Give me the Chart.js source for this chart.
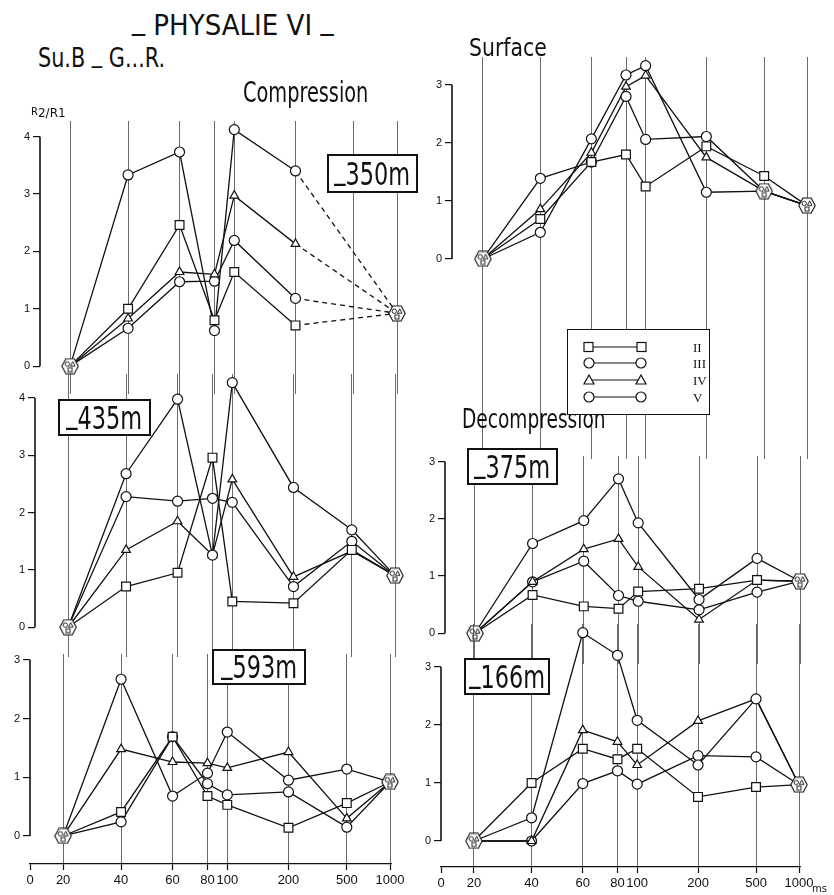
<!DOCTYPE html>
<html lang="fr">
<head>
<meta charset="UTF-8">
<title>Physalie VI - R2/R1</title>
<script src="https://cdn.jsdelivr.net/npm/chart.js"></script>
<style>
  body { margin: 0; background: #fff; }
  #page {
    position: relative; width: 834px; height: 895px; overflow: hidden; background: #fff;
    font-family: "DejaVu Sans", sans-serif; color: #111;
  }
  canvas.panel { position: absolute; }
  .txt { position: absolute; white-space: nowrap; line-height: 1; z-index: 5; transform-origin: 0 0; }
  .u { position: relative; top: -0.2em; }
  .depth {
    position: absolute; z-index: 6; box-sizing: border-box; border: 2px solid #111; background: #fff;
    display: flex; align-items: center; justify-content: center; font-size: 32px; line-height: 1;
    filter: grayscale(1); overflow: hidden;
  }
  .depth > span { display: inline-block; transform: scaleX(0.7); }
  #legend { position: absolute; left: 567px; top: 329px; width: 143px; height: 86px; box-sizing: border-box;
    border: 1.5px solid #111; background: #fff; z-index: 6; filter: grayscale(1); }
  #legend span { position: absolute; left: 125px; font-family: "Liberation Serif", serif; font-size: 13px; line-height: 1; }
</style>
</head>
<body>
<div id="page">
  <div class="txt" style="left:132px;top:11px;font-size:29px;transform:scaleX(0.9);"><span class="u">_</span> PHYSALIE VI <span class="u">_</span></div>
  <div class="txt" style="left:38px;top:44px;font-size:27px;transform:scaleX(0.77);">Su.B <span class="u">_</span> G...R.</div>
  <div class="txt" style="left:243px;top:79px;font-size:28px;transform:scaleX(0.69);">Compression</div>
  <div class="txt" style="left:469px;top:36px;font-size:24px;transform:scaleX(0.85);">Surface</div>
  <div class="txt" style="left:462px;top:406px;font-size:26px;transform:scaleX(0.715);">Decompression</div>
  <div class="txt" style="left:31px;top:107px;font-size:12px;"><span style="font-size:10px;vertical-align:2px;">R</span>2/R1</div>
  <div class="txt" style="left:812px;top:884px;font-size:10px;">ms</div>

  <div class="depth" style="left:327px;top:154px;width:91px;height:39px;"><span><span class="u">_</span>350m</span></div>
  <div class="depth" style="left:58px;top:399px;width:93px;height:37px;"><span><span class="u">_</span>435m</span></div>
  <div class="depth" style="left:212px;top:649px;width:94px;height:36px;"><span><span class="u">_</span>593m</span></div>
  <div class="depth" style="left:467px;top:448px;width:91px;height:37px;"><span><span class="u">_</span>375m</span></div>
  <div class="depth" style="left:464px;top:658px;width:86px;height:37px;"><span><span class="u">_</span>166m</span></div>

  <div id="legend">
    <svg width="143" height="86" style="position:absolute;left:-1.5px;top:-1.5px;">
      <g stroke="#111" stroke-width="1.2" fill="#fff">
        <line x1="22" y1="18" x2="74" y2="18"/>
        <rect x="17" y="13.5" width="9" height="9"/><rect x="70" y="13.5" width="9" height="9"/>
        <line x1="22" y1="34" x2="74" y2="34"/>
        <circle cx="22" cy="34" r="5"/><circle cx="74" cy="34" r="5"/>
        <line x1="22" y1="51" x2="74" y2="51"/>
        <path d="M22 46 L27 55 L17 55 Z"/><path d="M74 46 L79 55 L69 55 Z"/>
        <line x1="22" y1="68" x2="74" y2="68"/>
        <circle cx="22" cy="68" r="5"/><circle cx="74" cy="68" r="5"/>
      </g>
    </svg>
    <span style="top:11px;">II</span>
    <span style="top:27px;">III</span>
    <span style="top:44px;">IV</span>
    <span style="top:61px;">V</span>
  </div>
</div>

<script>
    // stimulus intervals (ms) and bottom-axis labels
    const categories = ['20', '40', '60', '80', '100', '200', '500', '1000'];
    const axisLabels = ['0', '20', '40', '60', '80', '100', '200', '500', '1000'];
    const seriesNames = ['II', 'III', 'IV', 'V'];

    // Compression -350m (no measure at 500, dashed to 1000)
    const c350_II  = [0, 1.00, 2.46, 0.80, 1.64, 0.71, null, 0.92];
    const c350_III = [0, 3.33, 3.73, 0.62, 4.12, 3.40, null, 0.92];
    const c350_IV  = [0, 0.83, 1.64, 1.60, 2.97, 2.13, null, 0.92];
    const c350_V   = [0, 0.66, 1.47, 1.48, 2.19, 1.18, null, 0.92];
    const c350_hex = [0, null, null, null, null, null, null, 0.92];

    // Compression -435m
    const c435_II  = [0, 0.71, 0.95, 2.96, 0.45, 0.42, 1.35, 0.90];
    const c435_III = [0, 2.68, 3.98, 1.26, 4.27, 2.44, 1.70, 0.90];
    const c435_IV  = [0, 1.35, 1.85, 1.26, 2.58, 0.88, 1.33, 0.90];
    const c435_V   = [0, 2.28, 2.20, 2.25, 2.18, 0.71, 1.50, 0.90];
    const c435_hex = [0, null, null, null, null, null, null, 0.90];

    // Compression -593m
    const c593_II  = [0, 0.41, 1.69, 0.68, 0.53, 0.14, 0.56, 0.92];
    const c593_III = [0, 2.67, 0.68, 1.07, 1.77, 0.95, 1.14, 0.92];
    const c593_IV  = [0, 1.48, 1.26, 1.24, 1.16, 1.43, 0.30, 0.92];
    const c593_V   = [0, 0.24, 1.69, 0.89, 0.70, 0.75, 0.15, 0.92];
    const c593_hex = [0, null, null, null, null, null, null, 0.92];

    // Surface
    const surf_II  = [0, 0.69, 1.67, 1.80, 1.25, 1.94, 1.43, 0.92];
    const surf_III = [0, 1.39, 1.67, 2.80, 2.06, 2.11, 1.17, 0.92];
    const surf_IV  = [0, 0.86, 1.83, 2.97, 3.16, 1.75, 1.17, 0.92];
    const surf_V   = [0, 0.46, 2.07, 3.17, 3.33, 1.15, 1.17, 0.92];
    const surf_hex = [0, null, null, null, null, null, 1.17, 0.92];

    // Decompression -375m
    const d375_II  = [0, 0.67, 0.47, 0.43, 0.73, 0.78, 0.93, 0.91];
    const d375_III = [0, 1.57, 1.97, 2.70, 1.93, 0.59, 1.31, 0.91];
    const d375_IV  = [0, 0.90, 1.47, 1.65, 1.16, 0.24, 0.93, 0.91];
    const d375_V   = [0, 0.90, 1.26, 0.66, 0.56, 0.41, 0.72, 0.91];
    const d375_hex = [0, null, null, null, null, null, null, 0.91];

    // Decompression -166m
    const d166_II  = [0, 1.00, 1.59, 1.41, 1.59, 0.76, 0.93, 0.97];
    const d166_III = [0, 0.40, 3.59, 3.20, 2.08, 1.31, 2.45, 0.97];
    const d166_IV  = [0, 0.00, 1.91, 1.71, 1.31, 2.07, 2.45, 0.97];
    const d166_V   = [0, 0.00, 0.99, 1.21, 0.98, 1.47, 1.45, 0.97];
    const d166_hex = [0, null, null, null, null, null, null, 0.97];

    // the time axis of the original is hand drawn, not to scale:
    // position of each interval along the axis (0 = origin, 100 = 1000 ms)
    const xPos = [9.2, 25.3, 39.6, 49.3, 54.8, 71.8, 88.0, 100];
    const axisPos = [0].concat(xPos);

    const FONT = '"Liberation Sans", Arial, sans-serif';
    const INK = '#111';
    const Y_W = 26, PAD_T = 16, PAD_R = 34, PAD_B = 8, X_H = 30;

    const markers = {
        II: { style: 'rect', r: 6.2 },
        III: { style: 'circle', r: 5 },
        IV: { style: 'triangle', r: 5 },
        V: { style: 'circle', r: 5 }
    };

    // hexagon holding the little circle / triangle / square (common start and end points)
    function hexMarker() {
        const c = document.createElement('canvas');
        c.width = 18; c.height = 17;
        const g = c.getContext('2d');
        g.strokeStyle = INK; g.fillStyle = '#fff'; g.lineWidth = 1.1;
        g.beginPath();
        g.moveTo(0.8, 8.5); g.lineTo(4.8, 1); g.lineTo(13.2, 1);
        g.lineTo(17.2, 8.5); g.lineTo(13.2, 16); g.lineTo(4.8, 16);
        g.closePath(); g.fill(); g.stroke();
        g.lineWidth = 0.9;
        g.beginPath(); g.arc(6.3, 6.3, 2.2, 0, Math.PI * 2); g.stroke();
        g.beginPath(); g.moveTo(11.7, 3.8); g.lineTo(14, 8.3); g.lineTo(9.4, 8.3); g.closePath(); g.stroke();
        g.strokeRect(7, 10, 4, 4);
        return c;
    }
    const hexImg = hexMarker();

    // draws the "]" shaped y axis from 0 up to the last tick only
    const bracket = {
        id: 'bracket',
        beforeDatasetsDraw(chart) {
            const y = chart.scales.y;
            const topTick = y.ticks[y.ticks.length - 1].value;
            const x = chart.chartArea.left;
            const ctx = chart.ctx;
            ctx.save();
            ctx.strokeStyle = INK;
            ctx.lineWidth = 1.6;
            ctx.beginPath();
            ctx.moveTo(x, y.getPixelForValue(0));
            ctx.lineTo(x, y.getPixelForValue(topTick));
            ctx.stroke();
            ctx.restore();
        }
    };

    function toPoints(vals) {
        return vals.map((v, i) => v == null ? null : { x: xPos[i], y: v }).filter(Boolean);
    }

    function makePanel(p) {
        const unit = (p.zeroPx - p.topPx) / p.max;
        const dataMax = Math.max(...p.series.flat().filter(v => v != null));
        const yMax = Math.max(p.max + 0.1, dataMax + 0.15);
        const areaTop = p.zeroPx - unit * yMax;
        const chartLeft = p.axisPx;
        const chartRight = p.xA + p.xB * 100 + 1;
        const left = chartLeft - Y_W;
        const width = Math.round(chartRight + PAD_R - left);
        const top = Math.round(areaTop - PAD_T);
        const height = Math.round(PAD_T + (p.bottomPx - areaTop) + (p.showX ? X_H : 0) + PAD_B);

        const cv = document.createElement('canvas');
        cv.className = 'panel';
        cv.width = width; cv.height = height;
        cv.style.left = left + 'px'; cv.style.top = top + 'px';
        cv.style.width = width + 'px'; cv.style.height = height + 'px';
        document.getElementById('page').appendChild(cv);

        const datasets = p.series.map((vals, k) => {
            const m = markers[seriesNames[k]];
            const pts = toPoints(vals);
            const last = pts.length - 1;
            return {
                label: seriesNames[k],
                data: pts,
                borderColor: INK,
                borderWidth: 1.3,
                tension: 0,
                pointStyle: m.style,
                pointRadius: ctx => (ctx.dataIndex === 0 || ctx.dataIndex === last) ? 0 : m.r,
                pointBackgroundColor: '#fff',
                pointBorderColor: INK,
                pointBorderWidth: 1.2,
                clip: false,
                order: 1,
                segment: {
                    borderDash: ctx => (p.dashedToEnd && ctx.p1DataIndex === last) ? [5, 4] : undefined
                }
            };
        });
        datasets.push({
            label: 'common',
            data: toPoints(p.hex),
            showLine: false,
            pointStyle: hexImg,
            pointRadius: 9,
            clip: false,
            order: 0
        });

        new Chart(cv, {
            type: 'line',
            data: { datasets: datasets },
            plugins: [bracket],
            options: {
                responsive: false,
                animation: false,
                events: [],
                layout: { padding: { top: PAD_T, right: PAD_R, bottom: PAD_B, left: 0 } },
                plugins: { legend: { display: false }, tooltip: { enabled: false } },
                scales: {
                    x: {
                        type: 'linear',
                        min: (chartLeft - p.xA) / p.xB,
                        max: (chartRight - p.xA) / p.xB,
                        afterBuildTicks: s => {
                            s.ticks = axisPos.filter(v => v >= s.min - 1e-6 && v <= s.max).map(v => ({ value: v }));
                        },
                        afterFit: s => { s.height = p.showX ? X_H : 0; },
                        border: { display: !!p.showX, color: INK, width: 1.3 },
                        grid: {
                            drawOnChartArea: true,
                            drawTicks: !!p.showX,
                            tickLength: 6,
                            tickColor: INK,
                            tickWidth: 1.2,
                            tickBorderDash: [],
                            color: ctx => (ctx.tick && ctx.tick.value === 0) ? 'rgba(0,0,0,0)' : '#444',
                            lineWidth: 0.8,
                            borderDash: [9, 3, 2, 3]
                        },
                        ticks: {
                            display: !!p.showX,
                            maxRotation: 0,
                            autoSkip: false,
                            padding: 3,
                            color: INK,
                            font: { family: FONT, size: 13 },
                            callback: v => axisLabels[axisPos.indexOf(v)]
                        }
                    },
                    y: {
                        type: 'linear',
                        min: -(p.bottomPx - p.zeroPx) / unit,
                        max: yMax,
                        afterBuildTicks: s => {
                            const t = [];
                            for (let v = 0; v <= p.max; v++) t.push({ value: v });
                            s.ticks = t;
                        },
                        afterFit: s => { s.width = Y_W; },
                        border: { display: false },
                        grid: { drawOnChartArea: false, drawTicks: true, tickLength: 7, color: INK, lineWidth: 1.2 },
                        ticks: {
                            padding: 3,
                            color: INK,
                            font: { family: FONT, size: 11 },
                            callback: v => String(v)
                        }
                    }
                }
            }
        });
    }

    // left column: compression
    makePanel({ series: [c350_II, c350_III, c350_IV, c350_V], hex: c350_hex, dashedToEnd: true,
        axisPx: 40, topPx: 137, zeroPx: 368, bottomPx: 396, max: 4, xA: 37, xB: 3.6 });
    makePanel({ series: [c435_II, c435_III, c435_IV, c435_V], hex: c435_hex,
        axisPx: 35, topPx: 398, zeroPx: 629, bottomPx: 659, max: 4, xA: 35, xB: 3.6 });
    makePanel({ series: [c593_II, c593_III, c593_IV, c593_V], hex: c593_hex, showX: true,
        axisPx: 30, topPx: 660, zeroPx: 836, bottomPx: 864, max: 3, xA: 30, xB: 3.6 });

    // right column: surface and decompression
    makePanel({ series: [surf_II, surf_III, surf_IV, surf_V], hex: surf_hex,
        axisPx: 452, topPx: 85, zeroPx: 260, bottomPx: 461, max: 3, xA: 450, xB: 3.57 });
    makePanel({ series: [d375_II, d375_III, d375_IV, d375_V], hex: d375_hex,
        axisPx: 445, topPx: 462, zeroPx: 635, bottomPx: 666, max: 3, xA: 442, xB: 3.58 });
    makePanel({ series: [d166_II, d166_III, d166_IV, d166_V], hex: d166_hex, showX: true,
        axisPx: 441, topPx: 667, zeroPx: 841, bottomPx: 867, max: 3, xA: 441, xB: 3.58 });
</script>
</body>
</html>
